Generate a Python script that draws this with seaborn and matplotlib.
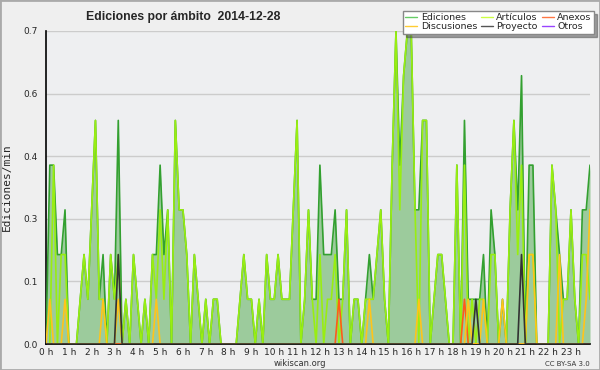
import numpy as np
import pandas as pd
import matplotlib
matplotlib.use("Agg")
import matplotlib.pyplot as plt
from matplotlib.patches import Rectangle
from matplotlib.ticker import MultipleLocator, FixedLocator, FuncFormatter
import seaborn as sns

# 10-minute bins over the day (minutes since midnight)
minutes = list(range(0, 1440, 10))
hour_labels = [f"{h} h" for h in range(24)]

# edits per minute, one row = 2 hours
ediciones = [
    0, .4, .4, .2, .2, .3, 0, 0, 0, .1, .2, .1,
    .3, .5, .1, .2, 0, .2, .1, .5, 0, .1, 0, .2,
    .1, 0, .1, 0, .2, .2, .4, .2, .3, 0, .5, .3,
    .3, .2, 0, .2, .1, 0, .1, 0, .1, .1, 0, 0,
    0, 0, 0, .1, .2, .1, .1, 0, .1, 0, .2, .1,
    .1, .2, .1, .1, .1, .3, .5, 0, .1, .3, .1, .1,
    .4, .2, .2, .2, .3, .1, .1, .3, 0, .1, .1, 0,
    .1, .2, .1, .2, .3, .1, 0, .4, .7, .4, .6, .7,
    .7, .3, .3, .5, .5, 0, .1, .2, .2, .1, 0, 0,
    .4, 0, .5, .1, .1, .1, .1, .2, 0, .3, .2, 0,
    .1, 0, .3, .5, .3, .6, 0, .4, .4, 0, 0, 0,
    0, .4, .3, .2, .1, .1, .3, .1, 0, .3, .3, .4,
]
articulos = [
    0, 0, .4, 0, .2, .2, 0, 0, 0, .1, .2, .1,
    .3, .5, .1, .1, 0, .2, .1, .2, 0, .1, 0, .2,
    .1, 0, .1, 0, .2, .1, .3, .1, .3, 0, .5, .3,
    .3, .2, 0, .2, .1, 0, .1, 0, .1, .1, 0, 0,
    0, 0, 0, .1, .2, .1, .1, 0, .1, 0, .2, .1,
    .1, .2, .1, .1, .1, .3, .5, 0, .1, .3, .1, 0,
    .2, 0, .1, .1, .2, 0, .1, .3, 0, .1, .1, 0,
    .1, .1, .1, .2, .3, .1, 0, .4, .7, .3, .6, .7,
    .7, .3, 0, .5, .5, 0, .1, .2, .2, .1, 0, 0,
    .4, 0, .4, 0, .1, 0, .1, .1, 0, .2, .2, 0,
    0, 0, .3, .5, .2, .4, 0, .2, .2, 0, 0, 0,
    0, .4, .3, 0, .1, .1, .3, .1, 0, .2, .2, .1,
]
discusiones = [
    0, .1, 0, 0, 0, .1, 0, 0, 0, 0, 0, 0,
    0, 0, 0, .1, 0, 0, 0, .1, 0, 0, 0, 0,
    0, 0, 0, 0, 0, .1, 0, 0, 0, 0, 0, 0,
    0, 0, 0, 0, 0, 0, 0, 0, 0, 0, 0, 0,
    0, 0, 0, 0, 0, 0, 0, 0, 0, 0, 0, 0,
    0, 0, 0, 0, 0, 0, 0, 0, 0, 0, 0, 0,
    0, 0, 0, 0, 0, 0, 0, 0, 0, 0, 0, 0,
    0, .1, 0, 0, 0, 0, 0, 0, 0, 0, 0, 0,
    0, 0, .1, 0, 0, 0, 0, 0, 0, 0, 0, 0,
    0, 0, 0, .1, 0, 0, 0, .1, 0, 0, 0, 0,
    .1, 0, 0, 0, 0, 0, 0, .2, .2, 0, 0, 0,
    0, 0, 0, .2, 0, 0, 0, 0, 0, 0, .1, .3,
]
anexos = [0.0] * 144
anexos[77] = .1
anexos[110] = .1
proyecto = [0.0] * 144
proyecto[19] = .2
proyecto[113] = .1
proyecto[125] = .2
otros = [0.0] * 144

df = pd.DataFrame({
    "hora": np.array(minutes) / 60,
    "Ediciones": ediciones,
    "Artículos": articulos,
    "Anexos": anexos,
    "Discusiones": discusiones,
    "Proyecto": proyecto,
    "Otros": otros,
})

sns.set_style("white")
plt.rcParams['font.family'] = ['DejaVu Sans']

fig = plt.figure(figsize=(6, 3.7), dpi=100, facecolor='#efefef')
ax = fig.add_axes([46 / 600, 1 - 344 / 370, 544 / 600, 313 / 370])
ax.set_facecolor('#eeeff1')

ax.fill_between(df["hora"], df["Ediciones"], color='#9ccb9c', lw=0, zorder=1)

series = [
    ("Ediciones", '#33a030', '#66cc66'),
    ("Artículos", '#99ee11', '#ccff44'),
    ("Anexos", '#ff5a1a', '#ff7744'),
    ("Discusiones", '#ffc41a', '#ffcc33'),
    ("Proyecto", '#333333', '#555555'),
    ("Otros", '#9933ff', '#9944ff'),
]
handles = []
for name, col, legcol in series:
    if max(df[name]) > 0:
        sns.lineplot(data=df, x="hora", y=name, ax=ax, color=col, lw=1.2, zorder=3)
    handles.append(plt.Line2D([], [], color=legcol, lw=1))

ax.set_xlim(0, minutes[-1] / 60)
ax.set_ylim(0, 0.7)
ax.xaxis.set_major_locator(FixedLocator(range(24)))
ax.set_xticklabels(hour_labels)
ax.xaxis.set_minor_locator(MultipleLocator(1 / 6))
ax.yaxis.set_major_locator(FixedLocator(np.linspace(0, 0.7, 6)))
ax.yaxis.set_major_formatter(FuncFormatter(lambda v, p: f"{v:.1f}"))
ax.yaxis.set_minor_locator(MultipleLocator(0.035))
ax.tick_params(axis='both', which='major', labelsize=6.5, length=5, width=1,
               color='black', pad=1, direction='out')
ax.tick_params(axis='both', which='minor', length=3, width=1, color='black')
ax.tick_params(axis='x', which='both', length=3, pad=0)
ax.grid(axis='y', color='#cccccc', lw=1, zorder=0)
ax.set_axisbelow(True)
for s in ['top', 'right']:
    ax.spines[s].set_visible(False)
for s in ['left', 'bottom']:
    ax.spines[s].set_color('black')
    ax.spines[s].set_linewidth(1.2)
ax.set_xlabel('')
ax.set_ylabel('Ediciones/min', family='DejaVu Sans Mono', fontsize=8, labelpad=8)

fig.text(86 / 600, 1 - 17 / 370, 'Ediciones por ámbito  2014-12-28',
         family='Liberation Sans', fontsize=8.8, fontweight='bold',
         va='center', ha='left')

leg_names = [s[0] for s in series]
order = [0, 3, 1, 4, 2, 5]
leg = fig.legend([handles[i] for i in order], [leg_names[i] for i in order],
                 loc='upper right', bbox_to_anchor=(594 / 600, 1 - 11 / 370),
                 ncol=3, fontsize=6.8, frameon=True, fancybox=False, shadow=True,
                 handlelength=1.3, handletextpad=0.35, columnspacing=0.4,
                 labelspacing=0.0, borderpad=0.25, borderaxespad=0)
leg.get_frame().set_edgecolor('#888888')
leg.get_frame().set_linewidth(1)
leg.get_frame().set_facecolor('white')

fig.text(300 / 600, 1 - 364 / 370, 'wikiscan.org', fontsize=6, ha='center', va='center', color='#333333')
fig.text(590 / 600, 1 - 364 / 370, 'CC BY-SA 3.0', fontsize=5, ha='right', va='center', color='#333333')

fig.patches.append(Rectangle((0, 0), 1, 1, transform=fig.transFigure, fill=False,
                             edgecolor='#aaaaaa', lw=2))

fig.savefig('out.png', dpi=100, facecolor=fig.get_facecolor())
